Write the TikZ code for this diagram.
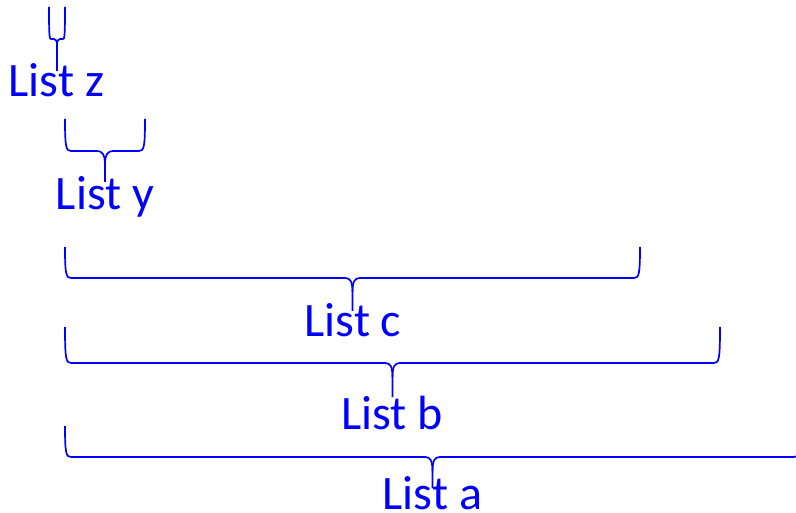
\documentclass[tikz,border=0pt]{standalone}
\usepackage{xcolor}
\definecolor{Blue}{RGB}{0,0,255}
\usepackage{fontspec}
\setmainfont{Carlito}
\usepackage{tikz}

\tikzset{
	bracestroke/.style={draw=Blue, line width=1.7pt, line join=round},
	listlabel/.style={text=Blue, anchor=base, inner sep=0pt, font=\fontsize{48}{52}\selectfont}
}

\begin{document}
\begin{tikzpicture}[x=1pt, y=-1pt]
		
		\useasboundingbox (0,0) rectangle (796,513);
		
		% Brace z
		\draw[bracestroke] (49,7) .. controls (49,37) and (49.5,39) .. (51,39) -- (54,39) .. controls (56,39) and (57,41) .. (57,45) -- (57,71);
		\draw[bracestroke] (65,7) .. controls (65,37) and (64.5,39) .. (63,39) -- (60,39) .. controls (58,39) and (57,41) .. (57,45);
		
		% Brace y
		\draw[bracestroke] (65,119) .. controls (65,147) and (66,151) .. (71,151) -- (97,151) .. controls (102,151) and (105,154) .. (105,165) -- (105,182);
		\draw[bracestroke] (145,119) .. controls (145,147) and (144,151) .. (139,151) -- (113,151) .. controls (108,151) and (105,154) .. (105,165);
		
		% Brace c
		\draw[bracestroke] (65,247) .. controls (65,274) and (66,278) .. (71,278) -- (345,278) .. controls (350,278) and (352.5,281) .. (352.5,292) -- (352.5,311);
		\draw[bracestroke] (640,247) .. controls (640,274) and (639,278) .. (634,278) -- (360,278) .. controls (355,278) and (352.5,281) .. (352.5,292);
		
		% Brace b
		\draw[bracestroke] (65,327) .. controls (65,359) and (66,363) .. (71,363) -- (385,363) .. controls (390,363) and (392.5,366) .. (392.5,377) -- (392.5,397);
		\draw[bracestroke] (720,327) .. controls (720,359) and (719,363) .. (714,363) -- (400,363) .. controls (395,363) and (392.5,366) .. (392.5,377);
		
		% Brace a
		\draw[bracestroke] (65,426) .. controls (65,453) and (66,457) .. (71,457) -- (425,457) .. controls (430,457) and (432.5,460) .. (432.5,471) -- (432.5,488);
		\draw[bracestroke] (800,426) .. controls (800,453) and (799,457) .. (794,457) -- (440,457) .. controls (435,457) and (432.5,460) .. (432.5,471);
		
		% Labels
		\node[listlabel] (listz) at (56.5,97) {List z};
		\node[listlabel] (listy) at (105,210) {List y};
		\node[listlabel] (listc) at (353,337) {List c};
		\node[listlabel] (listb) at (392,429) {List b};
		\node[listlabel] (lista) at (432.5,509.5) {List a};
		
	\end{tikzpicture}
\end{document}
